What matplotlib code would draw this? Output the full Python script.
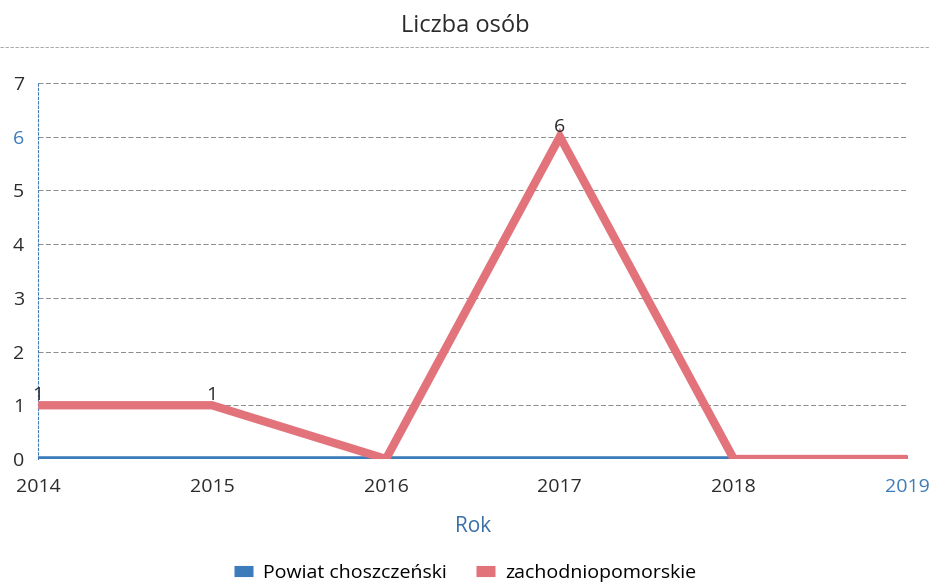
import matplotlib.pyplot as plt

# Dane
lata = [2014, 2015, 2016, 2017, 2018, 2019]
powiat = [0, 0, 0, 0, 0, 0]
zachodniopomorskie = [1, 1, 0, 6, 0, 0]
y_ticks = [0, 1, 2, 3, 4, 5, 6, 7]

plt.rcParams['font.family'] = ['Open Sans', 'DejaVu Sans']

BLUE = '#3d7cba'
RED = '#e2737a'
TXT = '#2b2b2b'

fig = plt.figure(figsize=(9.3, 5.83), dpi=100)
ax = fig.add_axes([0.041, 0.2127, 0.935, 0.645])

ax.plot(lata, powiat, color=BLUE, linewidth=4, solid_capstyle='butt', label='Powiat choszczeński', zorder=3)
ax.plot(lata, zachodniopomorskie, color=RED, linewidth=6, solid_capstyle='butt',
        solid_joinstyle='miter', label='zachodniopomorskie', zorder=4)

# etykiety wartości (tylko niezerowe)
for x, v in zip(lata, zachodniopomorskie):
    if v > 0:
        ax.text(x, v + 0.02, str(v), ha='center', va='bottom', fontsize=14, color=TXT, zorder=5)

ax.set_xlim(2014, 2019)
ax.set_ylim(0, 7)
ax.set_yticks(y_ticks)
ax.set_xticks(lata)
ax.set_xticklabels([str(r) for r in lata])
ax.tick_params(axis='both', length=0, labelsize=14, colors=TXT)
ax.tick_params(axis='y', pad=10)
ax.tick_params(axis='x', pad=14)
ax.get_yticklabels()[6].set_color(BLUE)
ax.get_xticklabels()[5].set_color(BLUE)

ax.grid(axis='y', color='#555555', linestyle=(0, (6, 3)), linewidth=0.6, alpha=0.8)
ax.set_axisbelow(True)
for s in ['top', 'right', 'bottom']:
    ax.spines[s].set_visible(False)
ax.spines['left'].set_color(BLUE)
ax.spines['left'].set_linestyle((0, (2, 2)))
ax.spines['left'].set_linewidth(0.8)

ax.set_xlabel('Rok', fontsize=15, color='#3a6fa8', labelpad=14)
fig.text(0.5, 0.955, 'Liczba osób', ha='center', va='center', fontsize=17, color=TXT)
fig.add_artist(plt.Line2D([0.0, 1.0], [0.919, 0.919], color='#999999', linestyle=(0, (4, 2)), linewidth=0.6))

leg = fig.legend(handles=ax.get_lines(), loc='center', bbox_to_anchor=(0.5, 0.018), ncol=2, frameon=False,
                 fontsize=14, handlelength=1.0, handleheight=0.6, columnspacing=1.5, handletextpad=0.5)
for h in leg.legend_handles:
    h.set_linewidth(8)

fig.savefig('out.png', dpi=100)
